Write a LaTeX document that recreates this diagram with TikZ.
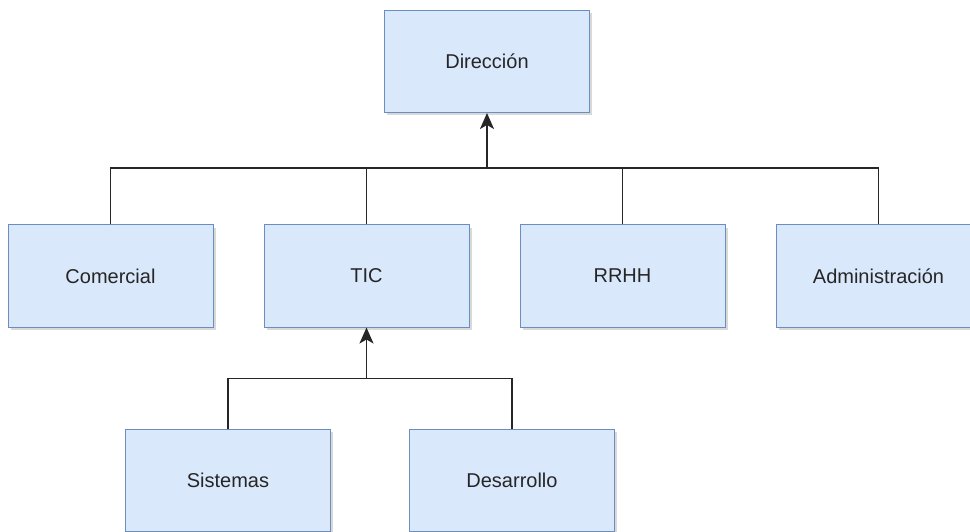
\documentclass[tikz,border=0pt]{standalone}
\usepackage{fontspec}
\setmainfont{Liberation Sans}
\usepackage{tikz}
\usetikzlibrary{arrows.meta,positioning,shadows}
\usepackage{xcolor}
\definecolor{boxfill}{HTML}{DAE8FC}
\definecolor{boxline}{HTML}{6C8EBF}

\begin{document}
\begin{tikzpicture}[x=1pt, y=-1pt,
  every node/.style={font=\fontsize{20}{24}\selectfont, text=black!85},
  unit/.style={rectangle, draw=boxline, fill=boxfill, line width=1pt,
    minimum width=205pt, minimum height=102pt, inner sep=0pt,
    drop shadow={shadow xshift=2.5pt, shadow yshift=-3pt, opacity=0.25, fill=black!60}},
  link/.style={draw=black!85, line width=1.8pt},
  up/.style={link, -{Stealth[length=16pt,width=14pt,inset=4pt]}}]
\useasboundingbox (0,0) rectangle (970,532);
\node[unit] (dir) at (487,61.5) {Dirección};
\node[unit] (com) at (110.5,276) {Comercial};
\node[unit,right=50pt of com] (tic) {TIC};
\node[unit,right=50pt of tic] (rrhh) {RRHH};
\node[unit,right=50pt of rrhh] (adm) {Administración};
\node[unit] (sis) at (228,480) {Sistemas};
\node[unit,right=78pt of sis] (des) {Desarrollo};
% buses
\coordinate[below=55pt of dir.south] (top);
\coordinate[below=51pt of tic.south] (mid);
\draw[up] (top) -- (dir.south);
\draw[link] (com.north) |- (top) -| (adm.north);
\draw[link] (tic.north) |- (top) -| (rrhh.north);
\draw[up] (mid) -- (tic.south);
\draw[link] (sis.north) |- (mid) -| (des.north);
\end{tikzpicture}
\end{document}
